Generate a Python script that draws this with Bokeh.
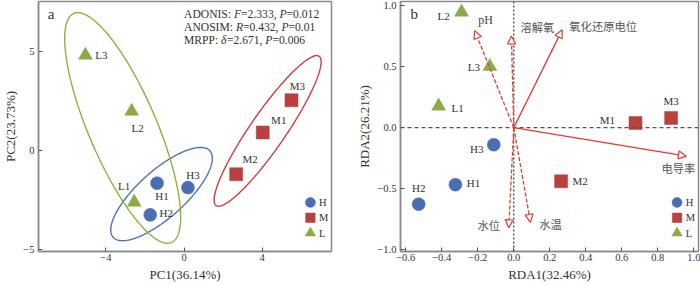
import numpy as np
from bokeh.plotting import figure
from bokeh.layouts import row
from bokeh.models import (ColumnDataSource, Range1d, FixedTicker, CustomJSTickFormatter,
                          Span, Arrow, NormalHead, Label)
from bokeh.core.properties import value
from bokeh.embed import file_html
from bokeh.resources import INLINE

# ---------------- data ----------------
groups = ["H", "M", "L"]
sites = ["H1", "H2", "H3", "M1", "M2", "M3", "L1", "L2", "L3"]
site_group = ["H", "H", "H", "M", "M", "M", "L", "L", "L"]

# panel a: PCA scores
pc1 = [-1.38, -1.73, 0.20, 4.03, 2.67, 5.50, -2.55, -2.68, -5.05]
pc2 = [-1.65, -3.25, -1.87, 0.91, -1.20, 2.54, -2.61, 1.98, 4.81]

# group ellipses (centre, semi-axes, angle in degrees)
ell_cx = [-1.15, 4.28, -3.14]
ell_cy = [-2.20, 0.99, 1.14]
ell_a = [3.30, 4.60, 6.30]
ell_b = [1.19, 0.90, 1.74]
ell_angle = [41.3, 55.0, -66.6]

# statistics
adonis_F, adonis_P = "2.333", "0.012"
anosim_R, anosim_P = "0.432", "0.01"
mrpp_d, mrpp_P = "2.671", "0.006"

# panel b: RDA site scores
rda1 = [-0.324, -0.528, -0.111, 0.676, 0.263, 0.874, -0.417, -0.290, -0.133]
rda2 = [-0.467, -0.627, -0.140, 0.038, -0.440, 0.079, 0.176, 0.945, 0.500]

# environmental vectors
env = ["pH", "溶解氧", "氧化还原电位", "电导率", "水位", "水温"]
env_x = [-0.217, -0.013, 0.269, 0.959, -0.028, 0.093]
env_y = [0.794, 0.750, 0.800, -0.234, -0.820, -0.775]
env_dashed = [True, True, False, False, True, True]

pa_xticks = [-4, 0, 4]
pa_yticks = [-5, 0, 5]
pb_xticks = [-0.6, -0.4, -0.2, 0.0, 0.2, 0.4, 0.6, 0.8, 1.0]
pb_yticks = [-1.0, -0.5, 0.0, 0.5, 1.0]

# ---------------- styles ----------------
SERIF = "Liberation Serif"
CJK = "Noto Sans CJK SC"
fill_col = {"H": "#4B6DB4", "M": "#B8403E", "L": "#8DAA4A"}
ell_col = {"H": "#4A72C0", "M": "#D23B3B", "L": "#8AB43C"}
marker = {"H": "circle", "M": "square", "L": "triangle"}
msize = {"H": 13, "M": 13, "L": 14}
leg_size = {"H": 10, "M": 9.5, "L": 10.5}
ARROW = "#E23C32"
FRAME = "#8a8a8a"
TXT = "#333333"

# label offsets (screen px) for site labels
a_dx = [5, 16, 5, 16, 14, 6, -10, 6, 16]
a_dy = [13, -2, -13, -12, -15, -14, -16, 17, 0]
b_dx = [18, 0, -17, -28, 19, 0, 19, -18, -16]
b_dy = [-2, -16, 4, -3, 0, -17, 2, 4, 0]
env_dx = [11, 26, 41, -8, -20, 20]
env_dy = [-11, -9, -4, 12, -3, 2]
# legend placement as fractions of the frame (x from left, y from top)
leg_fx, leg_tx = 0.928, 0.957
leg_fy = [0.804, 0.865, 0.926]


def style(p, xticks, yticks, fmt):
    p.xaxis.ticker = FixedTicker(ticks=xticks)
    p.yaxis.ticker = FixedTicker(ticks=yticks)
    for ax in (p.xaxis, p.yaxis):
        ax.formatter = CustomJSTickFormatter(code=fmt)
        ax.major_tick_in = 4
        ax.major_tick_out = 0
        ax.minor_tick_line_color = None
        ax.axis_line_color = FRAME
        ax.axis_line_width = 1.5
        ax.major_tick_line_color = "#555555"
        ax.major_label_text_font = SERIF
        ax.major_label_text_font_size = "10.5px"
        ax.major_label_text_color = TXT
        ax.axis_label_text_font = SERIF
        ax.axis_label_text_font_size = "13px"
        ax.axis_label_text_font_style = "normal"
        ax.axis_label_text_color = TXT
    p.xaxis.major_label_standoff = 2
    p.yaxis.major_label_standoff = 4
    p.xaxis.axis_label_standoff = 3
    p.yaxis.axis_label_standoff = 2
    p.xgrid.visible = False
    p.ygrid.visible = False
    p.outline_line_color = FRAME
    p.outline_line_width = 1.5
    p.background_fill_color = "white"


def add_legend(p, xr, yr):
    lx = xr[0] + leg_fx * (xr[1] - xr[0])
    tx = xr[0] + leg_tx * (xr[1] - xr[0])
    for g, fy in zip(groups, leg_fy):
        ly = yr[1] - fy * (yr[1] - yr[0])
        p.scatter([lx], [ly], marker=marker[g], size=leg_size[g],
                  fill_color=fill_col[g], line_color=fill_col[g], line_width=0.5)
        p.text([tx], [ly], text=[g], text_font=value(SERIF), text_font_size=value("10.5px"),
               text_color=TXT, text_align="left", text_baseline="middle")


# ---------------- panel a ----------------
pa_xr, pa_yr = (-7.45, 7.55), (-5.10, 7.525)
pa = figure(width=346, height=286, x_range=Range1d(*pa_xr), y_range=Range1d(*pa_yr),
            output_backend="svg", toolbar_location=None,
            min_border_left=31, min_border_right=15, min_border_top=1, min_border_bottom=35)
style(pa, pa_xticks, pa_yticks, "return tick.toFixed(0).replace('-', '\\u2212');")
pa.xaxis.axis_label = "PC1(36.14%)"
pa.yaxis.axis_label = "PC2(23.73%)"

t = np.linspace(0, 2 * np.pi, 240)
for g, cx, cy, a, b, ang in zip(groups, ell_cx, ell_cy, ell_a, ell_b, ell_angle):
    th = np.deg2rad(ang)
    ex = cx + a * np.cos(t) * np.cos(th) - b * np.sin(t) * np.sin(th)
    ey = cy + a * np.cos(t) * np.sin(th) + b * np.sin(t) * np.cos(th)
    pa.line(ex, ey, line_color=ell_col[g], line_width=1.4)

for g in groups:
    idx = [i for i, s in enumerate(site_group) if s == g]
    src = ColumnDataSource(dict(x=[pc1[i] for i in idx], y=[pc2[i] for i in idx]))
    pa.scatter("x", "y", source=src, marker=marker[g], size=msize[g],
               fill_color=fill_col[g], line_color=fill_col[g], line_width=0.5)

lab_a = ColumnDataSource(dict(x=pc1, y=pc2, text=sites, dx=a_dx, dy=a_dy))
pa.text("x", "y", text="text", source=lab_a, x_offset="dx", y_offset="dy",
        text_font=value(SERIF), text_font_size=value("11px"), text_color=TXT,
        text_align="center", text_baseline="middle")

add_legend(pa, pa_xr, pa_yr)

pa.add_layout(Label(x=-6.8, y=6.88, text="a", text_font=SERIF, text_font_size="15px",
                    text_color=TXT, text_align="center", text_baseline="middle"))

# statistics text with italic symbols
W_REG = {' ': 250, ',': 250, '.': 250, ':': 278, '=': 564, 'A': 722, 'D': 722, 'O': 722,
         'N': 722, 'I': 333, 'S': 556, 'M': 889, 'R': 667, 'P': 556}
W_IT = {'F': 611, 'P': 611, 'R': 611, 'δ': 500}
stat_lines = [
    [("ADONIS: ", False), ("F", True), ("=" + adonis_F + ", ", False), ("P", True), ("=" + adonis_P, False)],
    [("ANOSIM: ", False), ("R", True), ("=" + anosim_R + ", ", False), ("P", True), ("=" + anosim_P, False)],
    [("MRPP: ", False), ("δ", True), ("=" + mrpp_d + ", ", False), ("P", True), ("=" + mrpp_P, False)],
]
stat_y = [6.88, 6.22, 5.55]
FS = 11.6
seg_x, seg_y, seg_t, seg_off, seg_it = [], [], [], [], []
for line, yv in zip(stat_lines, stat_y):
    off = 0.0
    for txt, it in line:
        seg_x.append(0.0); seg_y.append(yv); seg_t.append(txt); seg_off.append(off); seg_it.append(it)
        table = W_IT if it else W_REG
        off += sum(table.get(c, 500) for c in txt) * FS / 1000.0
for italic in (False, True):
    sel = [i for i, v in enumerate(seg_it) if v == italic]
    src = ColumnDataSource(dict(x=[seg_x[i] for i in sel], y=[seg_y[i] for i in sel],
                                text=[seg_t[i] for i in sel], dx=[seg_off[i] for i in sel]))
    pa.text("x", "y", text="text", source=src, x_offset="dx",
            text_font=value(SERIF), text_font_size=value("%.1fpx" % FS),
            text_font_style="italic" if italic else "normal", text_color=TXT,
            text_align="left", text_baseline="middle")

# ---------------- panel b ----------------
pb_xr, pb_yr = (-0.629, 1.026), (-1.014, 1.032)
pb = figure(width=354, height=286, x_range=Range1d(*pb_xr), y_range=Range1d(*pb_yr),
            output_backend="svg", toolbar_location=None,
            min_border_left=54, min_border_right=2, min_border_top=1, min_border_bottom=35)
style(pb, pb_xticks, pb_yticks, "return tick.toFixed(1).replace('-', '\\u2212');")
pb.xaxis.axis_label = "RDA1(32.46%)"
pb.yaxis.axis_label = "RDA2(26.21%)"

pb.add_layout(Span(location=0, dimension="width", line_color="#555555", line_width=1.1, line_dash="4 3"))
pb.add_layout(Span(location=0, dimension="height", line_color="#444444", line_width=1.3, line_dash="2 2"))

for dashed in (True, False):
    sel = [i for i, d in enumerate(env_dashed) if d == dashed]
    src = ColumnDataSource(dict(x0=[0.0] * len(sel), y0=[0.0] * len(sel),
                                x1=[env_x[i] for i in sel], y1=[env_y[i] for i in sel]))
    pb.add_layout(Arrow(end=NormalHead(size=8, fill_color="white", line_color=ARROW, line_width=1.2),
                        source=src, x_start="x0", y_start="y0", x_end="x1", y_end="y1",
                        line_color=ARROW, line_width=1.3, line_dash="4 2" if dashed else "solid"))

for latin in (True, False):
    sel = [i for i, s in enumerate(env) if s.isascii() == latin]
    src = ColumnDataSource(dict(x=[env_x[i] for i in sel], y=[env_y[i] for i in sel],
                                text=[env[i] for i in sel], dx=[env_dx[i] for i in sel],
                                dy=[env_dy[i] for i in sel]))
    pb.text("x", "y", text="text", source=src, x_offset="dx", y_offset="dy",
            text_font=value(SERIF if latin else CJK),
            text_font_size=value("12px" if latin else "11.3px"),
            text_color="#444444" if latin else "#555555",
            text_align="center", text_baseline="middle")

for g in groups:
    idx = [i for i, s in enumerate(site_group) if s == g]
    src = ColumnDataSource(dict(x=[rda1[i] for i in idx], y=[rda2[i] for i in idx]))
    pb.scatter("x", "y", source=src, marker=marker[g], size=msize[g],
               fill_color=fill_col[g], line_color=fill_col[g], line_width=0.5)

lab_b = ColumnDataSource(dict(x=rda1, y=rda2, text=sites, dx=b_dx, dy=b_dy))
pb.text("x", "y", text="text", source=lab_b, x_offset="dx", y_offset="dy",
        text_font=value(SERIF), text_font_size=value("11px"), text_color=TXT,
        text_align="center", text_baseline="middle")

add_legend(pb, pb_xr, pb_yr)

pb.add_layout(Label(x=-0.552, y=0.926, text="b", text_font=SERIF, text_font_size="15px",
                    text_color=TXT, text_align="center", text_baseline="middle"))

layout = row(pa, pb)
open("out.html", "w").write(file_html(layout, INLINE))
